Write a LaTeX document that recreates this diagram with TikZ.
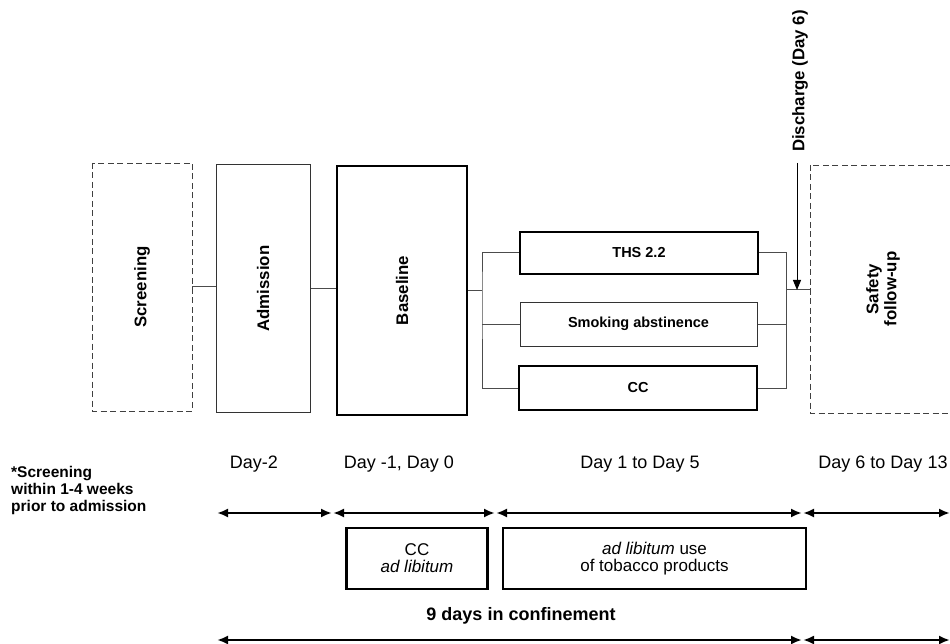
\documentclass[tikz,border=0pt]{standalone}
\usepackage{fontspec}
\setmainfont{Liberation Sans}
\usetikzlibrary{arrows.meta}
\begin{document}
\begin{tikzpicture}[x=1pt,y=-1pt,
  tall/.style={draw, rectangle, inner sep=0pt, font=\fontsize{16.8}{18}\selectfont\bfseries, rotate=90},
  dashbox/.style={tall, draw=black!75, line width=0.9pt, dash pattern=on 6pt off 3.5pt},
  thinbox/.style={draw=black!80, line width=1pt},
  thickbox/.style={draw, line width=2.6pt},
  armbox/.style={draw, rectangle, inner sep=0pt, minimum height=42pt, font=\fontsize{14.5}{16}\selectfont\bfseries},
  conn/.style={draw=black!70, line width=1pt},
  daylbl/.style={anchor=base, font=\fontsize{18}{20}\selectfont},
  period/.style={line width=2.2pt, {Latex[length=11pt,width=9pt]}-{Latex[length=11pt,width=9pt]}},
  usebox/.style={draw, line width=2.6pt, inner sep=0pt, minimum height=61pt, align=center, font=\fontsize{17}{17}\selectfont}
]
\useasboundingbox (0,0) rectangle (950,644);

% tall boxes (rotated: minimum width is vertical extent)
\node[dashbox, minimum width=248pt, minimum height=100pt] (scr) at (142,287) {Screening};
\node[tall, thinbox, minimum width=247pt, minimum height=94pt] (adm) at (263,288.5) {Admission};
\node[tall, thickbox, minimum width=249pt, minimum height=130pt] (base) at (402,290.5) {Baseline};
\node[dashbox, minimum width=248pt, minimum height=146pt, align=center] (safe) at (883,289) {Safety\\follow-up};

% arms
\node[armbox, thickbox, minimum width=238pt] (ths) at (639,253) {THS 2.2};
\node[armbox, thinbox, minimum width=237pt, minimum height=44pt] (abs) at (638.5,324) {Smoking abstinence};
\node[armbox, thickbox, minimum width=238pt, minimum height=44pt] (cc) at (638,388) {CC};

% connectors
\draw[conn] (scr.south) -- (scr.south -| adm.north);
\draw[conn] (adm.south) -- (adm.south -| base.north);
\coordinate (bl) at (482,290.5);
\coordinate (br) at (786,290);
\draw[conn] (base.south) -- (bl);
\draw[conn] (ths.west) -| (bl) |- (cc.west);
\draw[conn] (abs.west) -- (abs.west -| bl);
\draw[conn] (ths.east) -| (br) |- (cc.east);
\draw[conn] (abs.east) -- (abs.east -| br);
\draw[conn] (br) -- (br -| safe.north);

% discharge
\node[rotate=90, inner sep=0pt, font=\fontsize{16.8}{18}\selectfont\bfseries] (dis) at (800,81) {Discharge (Day 6)};
\coordinate (dtop) at (797,163);
\coordinate (dend) at (797,290);
\draw[line width=1pt, -{Triangle[length=10pt,width=8pt]}] (dtop) -- (dend);

% day labels
\node[daylbl] (d2) at (254,468) {Day-2};
\node[daylbl] (d10) at (399,468) {Day -1, Day 0};
\node[daylbl] (d15) at (640,468) {Day 1 to Day 5};
\node[daylbl] (d613) at (883,468) {Day 6 to Day 13};

\node[anchor=base west, align=left, inner sep=0pt, font=\fontsize{15.5}{16.7}\selectfont\bfseries] (note) at (11,511) {*Screening\\within 1-4 weeks\\prior to admission};

% period arrows
\coordinate (t0) at (217,513);
\coordinate (t1) at (332,513);
\coordinate (t1b) at (333,513);
\coordinate (t2) at (495,513);
\coordinate (t2b) at (496,513);
\coordinate (t3) at (802,513);
\coordinate (t3b) at (803,513);
\coordinate (t4) at (950,513);
\draw[period] (t0) -- (t1);
\draw[period] (t1b) -- (t2);
\draw[period] (t2b) -- (t3);
\draw[period] (t3b) -- (t4);

% use boxes
\node[usebox, minimum width=141pt] (ccad) at (417,558.5) {CC\\\itshape ad libitum};
\node[usebox, minimum width=303pt] (adl) at (654.5,558.5) {\itshape ad libitum\upshape{} use\\of tobacco products};

\node[anchor=base, font=\fontsize{18}{20}\selectfont\bfseries] (conf) at (521,620) {9 days in confinement};

\coordinate (b0) at (217,640);
\coordinate (b1) at (802,640);
\coordinate (b1b) at (803,640);
\coordinate (b2) at (950,640);
\draw[period] (b0) -- (b1);
\draw[period] (b1b) -- (b2);
\end{tikzpicture}
\end{document}
